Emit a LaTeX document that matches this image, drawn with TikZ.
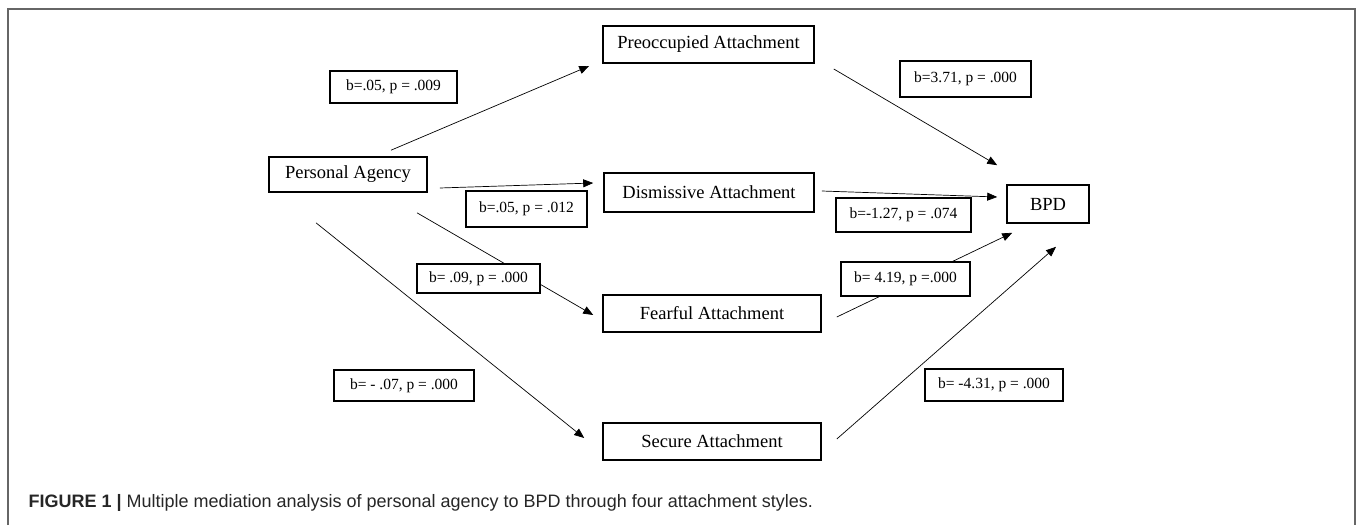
\documentclass[tikz,border=0pt]{standalone}
\usepackage{fontspec}
\setmainfont{Liberation Serif}
\setsansfont{Liberation Sans}
\usetikzlibrary{arrows.meta}

\begin{document}
\begin{tikzpicture}[x=1pt, y=-1pt,
	var/.style={draw, line width=1.6pt, inner sep=0pt, font=\fontsize{18.5}{22}\selectfont},
	coef/.style={draw, fill=white, line width=1.5pt, inner sep=0pt, minimum width=#1, font=\fontsize{15.5}{18}\selectfont},
	link/.style={line width=0.7pt, -{Triangle[length=10pt,width=8pt]}}]
	\useasboundingbox (0,0) rectangle (1357,525);
	\draw[gray!80!black, line width=1.4pt] (8,525) -- (8,9) -- (1355,9) -- (1355,525);

	% variables
	\node[var, minimum width=158, minimum height=35] (pa) at (348,174.5) {Personal Agency};
	\node[var, minimum width=211, minimum height=37] (pre) at (708.5,44.5) {Preoccupied Attachment};
	\node[var, minimum width=210, minimum height=39] (dis) at (709,192.5) {Dismissive Attachment};
	\node[var, minimum width=218, minimum height=37] (fea) at (712,313.5) {Fearful Attachment};
	\node[var, minimum width=218, minimum height=37] (sec) at (712,441.5) {Secure Attachment};
	\node[var, minimum width=82, minimum height=38] (bpd) at (1048,204) {BPD};

	% paths
	\draw[link] ([xshift=43,yshift=6]pa.north) -- ([xshift=-13,yshift=-21.5]pre.west);
	\draw[link] ([xshift=12,yshift=-13.5]pa.east) -- ([xshift=-10,yshift=9.5]dis.west);
	\draw[link] ([xshift=69,yshift=-20]pa.south) -- ([xshift=-9,yshift=-1.5]fea.west);
	\draw[link] ([xshift=-32,yshift=-30]pa.south) -- ([xshift=-18,yshift=3.5]sec.west);
	\draw[link] ([xshift=19,yshift=-24.5]pre.east) -- ([xshift=-9,yshift=19]bpd.north west);
	\draw[link] ([xshift=7,yshift=1.5]dis.east) -- ([xshift=-9,yshift=7]bpd.west);
	\draw[link] ([xshift=15,yshift=-3.5]fea.east) -- ([xshift=6,yshift=-9]bpd.south west);
	\draw[link] ([xshift=15,yshift=2.5]sec.east) -- ([xshift=8,yshift=-23]bpd.south);

	% coefficients
	\node[coef=127, minimum height=32] (c1) at (393.5,87) {b=.05, p = .009};
	\node[coef=121, minimum height=36] (c2) at (526.5,209) {b=.05, p = .012};
	\node[coef=123, minimum height=29] (c3) at (478.5,278.5) {b= .09, p = .000};
	\node[coef=140, minimum height=31] (c4) at (404,385.5) {b= - .07, p = .000};
	\node[coef=131, minimum height=36] (c5) at (965.5,79) {b=3.71, p = .000};
	\node[coef=135, minimum height=34] (c6) at (903.5,215) {b=-1.27, p = .074};
	\node[coef=129, minimum height=34] (c7) at (905.5,279) {b= 4.19, p =.000};
	\node[coef=138, minimum height=32] (c8) at (994,385) {b= -4.31, p = .000};

	\node[anchor=base west, font=\sffamily\fontsize{18}{22}\selectfont, text=black!85] (cap) at (25,507)
		{\textbf{FIGURE 1 |} Multiple mediation analysis of personal agency to BPD through four attachment styles.};
\end{tikzpicture}
\end{document}
